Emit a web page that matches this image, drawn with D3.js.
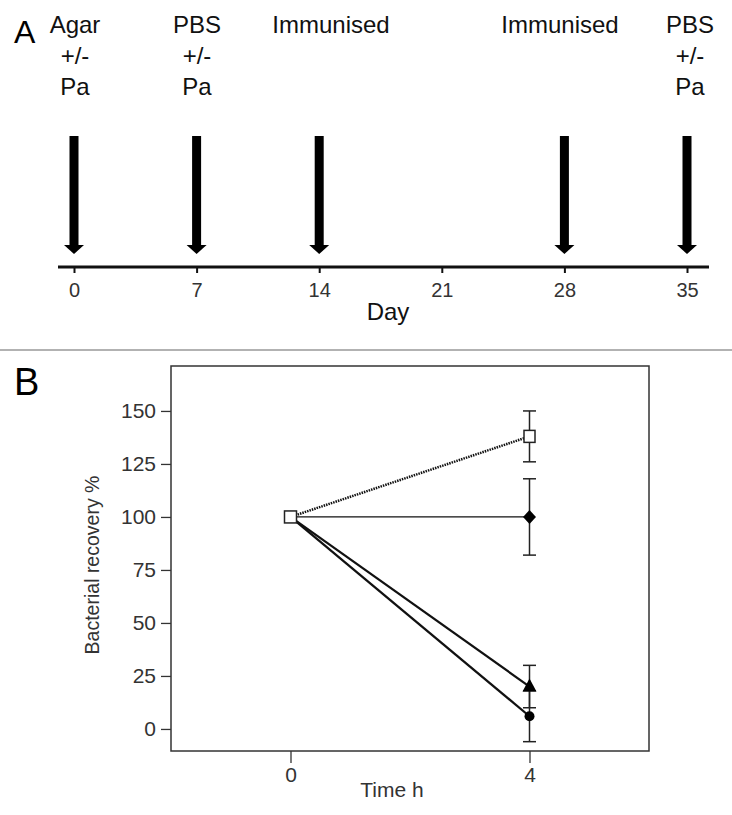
<!DOCTYPE html>
<html><head><meta charset="utf-8">
<script src="https://cdn.jsdelivr.net/npm/d3@7"></script>
<style>body{margin:0;background:#fff}svg{display:block;font-family:"Liberation Sans",Arial,sans-serif}</style>
</head><body>
<script>
// Panel A data
const dayTicks = [0, 7, 14, 21, 28, 35];
const eventDays = [0, 7, 14, 28, 35];
const eventLabels = [["Agar","+/-","Pa"],["PBS","+/-","Pa"],["Immunised"],["Immunised"],["PBS","+/-","Pa"]];
// Panel B data
const timePoints = [0, 4];
const yTicks = [0, 25, 50, 75, 100, 125, 150];
const seriesNames = ["square", "diamond", "triangle", "circle"];
const seriesMeans = [[100, 138], [100, 100], [100, 20], [100, 6]];
const seriesErr = [[0, 12], [0, 18], [0, 10], [0, 12]];

const W = 732, H = 815;
const svg = d3.select("body").append("svg").attr("width", W).attr("height", H);
const FF = "Liberation Sans, Arial, sans-serif";

// ---------- Panel A ----------
const xA = d3.scaleLinear().domain([0, 35]).range([74, 687]);
const axisY = 267;
const gA = svg.append("g");
gA.append("text").attr("x", 14).attr("y", 43).attr("font-size", 32).text("A");
gA.append("line").attr("x1", 58).attr("x2", 709).attr("y1", axisY).attr("y2", axisY)
  .attr("stroke", "#111").attr("stroke-width", 3);
const axA = gA.append("g").attr("transform", `translate(0,${axisY})`)
  .call(d3.axisBottom(xA).tickValues(dayTicks).tickSize(6).tickPadding(10).tickFormat(d3.format("d")));
axA.select(".domain").remove();
axA.selectAll(".tick line").attr("stroke", "#111").attr("stroke-width", 2);
axA.selectAll(".tick text").attr("font-size", 20).attr("fill", "#333").attr("font-family", FF);
gA.append("text").attr("x", 388).attr("y", 320).attr("text-anchor", "middle").attr("font-size", 24).attr("fill", "#111").text("Day");

const ev = gA.selectAll(".ev").data(eventDays).join("g").attr("class", "ev");
ev.append("rect").attr("x", d => xA(d) - 4.5).attr("y", 136).attr("width", 9).attr("height", 110).attr("fill", "#000");
ev.append("path").attr("d", d => `M${xA(d)-10},245 L${xA(d)+10},245 L${xA(d)},254 Z`).attr("fill", "#000");
const labX = [75, 197, 331, 560, 690];
ev.each(function(d, i) {
  const t = d3.select(this).append("text").attr("text-anchor", "middle").attr("font-size", 24).attr("fill", "#111");
  eventLabels[i].forEach((s, j) => {
    t.append("tspan").attr("x", labX[i]).attr("y", 33 + j * 31).text(s);
  });
});

// separator
svg.append("line").attr("x1", 0).attr("x2", W).attr("y1", 350).attr("y2", 350).attr("stroke", "#999").attr("stroke-width", 1.5);

// ---------- Panel B ----------
const gB = svg.append("g");
gB.append("text").attr("x", 14).attr("y", 395).attr("font-size", 38).text("B");
const xB = d3.scaleLinear().domain([-2, 6]).range([171, 649]);
const yB = d3.scaleLinear().domain([-10.4, 171.2]).range([751, 366]);

gB.append("rect").attr("x", 171).attr("y", 366).attr("width", 478).attr("height", 385)
  .attr("fill", "none").attr("stroke", "#333").attr("stroke-width", 1.5);

const ay = gB.append("g").attr("transform", "translate(171,0)")
  .call(d3.axisLeft(yB).tickValues(yTicks).tickSize(10).tickPadding(5));
ay.select(".domain").remove();
ay.selectAll(".tick line").attr("stroke", "#333").attr("stroke-width", 1.3);
ay.selectAll(".tick text").attr("font-size", 21).attr("fill", "#333").attr("font-family", FF);

const ax = gB.append("g").attr("transform", "translate(0,751)")
  .call(d3.axisBottom(xB).tickValues(timePoints).tickSize(12).tickPadding(4));
ax.select(".domain").remove();
ax.selectAll(".tick line").attr("stroke", "#333").attr("stroke-width", 1.3);
ax.selectAll(".tick text").attr("font-size", 21).attr("fill", "#333").attr("font-family", FF);

gB.append("text").attr("x", 392).attr("y", 797).attr("text-anchor", "middle").attr("font-size", 21).attr("fill", "#333").text("Time h");
gB.append("text").attr("transform", "translate(99,565) rotate(-90)").attr("text-anchor", "middle")
  .attr("font-size", 19.5).attr("fill", "#333").text("Bacterial recovery %");

const lineStyles = [
  {w: 2.5, dash: "1.5,1"},
  {w: 1.3, dash: null},
  {w: 2.2, dash: null},
  {w: 2.2, dash: null}
];
const line = d3.line().x((d, i) => xB(timePoints[i])).y(d => yB(d));

// error bars
seriesMeans.forEach((m, s) => {
  m.forEach((v, i) => {
    const e = seriesErr[s][i];
    if (!e) return;
    const x = xB(timePoints[i]);
    const g = gB.append("g").attr("stroke", "#222").attr("stroke-width", 1.5);
    g.append("line").attr("x1", x).attr("x2", x).attr("y1", yB(v + e)).attr("y2", yB(v - e));
    g.append("line").attr("x1", x - 6.5).attr("x2", x + 6.5).attr("y1", yB(v + e)).attr("y2", yB(v + e));
    g.append("line").attr("x1", x - 6.5).attr("x2", x + 6.5).attr("y1", yB(v - e)).attr("y2", yB(v - e));
  });
});

// lines (draw bottom ones first)
[3, 2, 1, 0].forEach(s => {
  gB.append("path").attr("d", line(seriesMeans[s])).attr("fill", "none").attr("stroke", "#111")
    .attr("stroke-width", lineStyles[s].w).attr("stroke-dasharray", lineStyles[s].dash);
});

// markers
function marker(name, x, y, big) {
  const h = big ? 6 : 5.5;
  if (name === "square") {
    gB.append("rect").attr("x", x - h).attr("y", y - 6).attr("width", 2 * h).attr("height", 12)
      .attr("fill", "#fff").attr("stroke", "#222").attr("stroke-width", 1.5);
  } else if (name === "diamond") {
    gB.append("path").attr("d", `M${x},${y-7} L${x+6.5},${y} L${x},${y+7} L${x-6.5},${y} Z`).attr("fill", "#000");
  } else if (name === "triangle") {
    gB.append("path").attr("d", `M${x},${y-8} L${x+7},${y+5} L${x-7},${y+5} Z`).attr("fill", "#000");
  } else {
    gB.append("circle").attr("cx", x).attr("cy", y).attr("r", 5).attr("fill", "#000");
  }
}
[3, 2, 1, 0].forEach(s => marker(seriesNames[s], xB(timePoints[1]), yB(seriesMeans[s][1])));
// shared start marker at t=0 (open square on top)
marker("square", xB(timePoints[0]), yB(seriesMeans[0][0]), true);
</script>
</body></html>
